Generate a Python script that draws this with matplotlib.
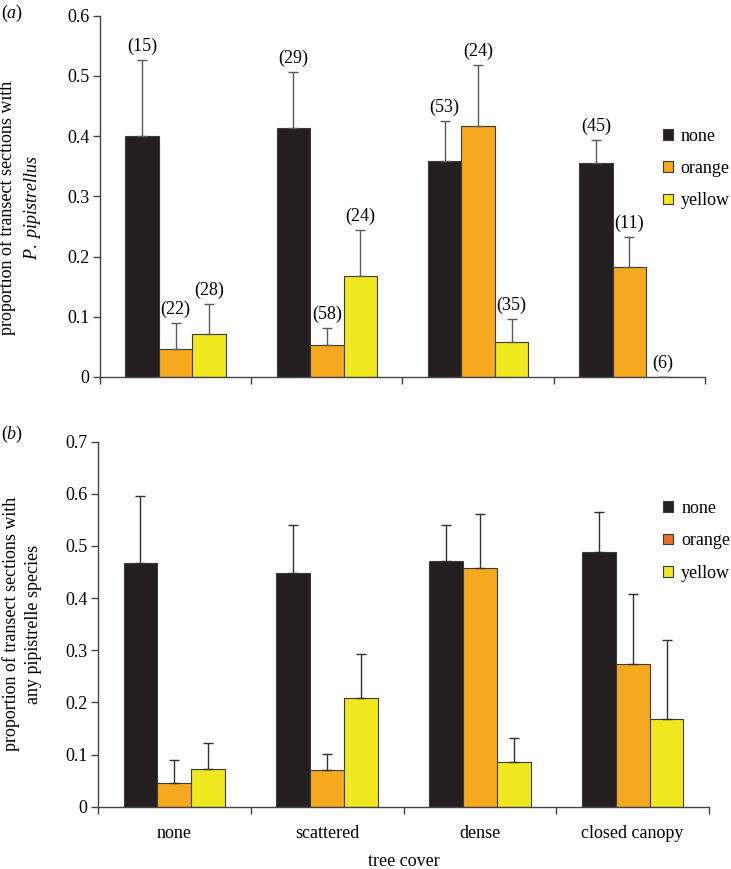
import matplotlib
matplotlib.use("Agg")
import matplotlib.pyplot as plt
from matplotlib.patches import Patch
import numpy as np

plt.rcParams['font.family'] = ['Liberation Serif', 'DejaVu Serif']
plt.rcParams['mathtext.fontset'] = 'custom'
plt.rcParams['mathtext.rm'] = 'Liberation Serif'
plt.rcParams['mathtext.it'] = 'Liberation Serif:italic'
plt.rcParams['font.size'] = 13

# dados
categorias = ['none', 'scattered', 'dense', 'closed canopy']
series = ['none', 'orange', 'yellow']
cores = ['#231f20', '#f6a81e', '#efe81f']
cor_legenda_b = ['#231f20', '#e8702a', '#efe81f']

# painel (a): P. pipistrellus
a_none = [0.400, 0.414, 0.359, 0.356]
a_orange = [0.046, 0.053, 0.417, 0.182]
a_yellow = [0.072, 0.168, 0.058, 0.0]
a_err_none = [0.127, 0.092, 0.066, 0.037]
a_err_orange = [0.044, 0.028, 0.101, 0.051]
a_err_yellow = [0.049, 0.076, 0.038, 0.0]
a_n_none = [15, 29, 53, 45]
a_n_orange = [22, 58, 24, 11]
a_n_yellow = [28, 24, 35, 6]

# painel (b): qualquer pipistrelo
b_none = [0.467, 0.448, 0.471, 0.489]
b_orange = [0.046, 0.070, 0.458, 0.273]
b_yellow = [0.072, 0.209, 0.086, 0.168]
b_err_none = [0.129, 0.093, 0.070, 0.076]
b_err_orange = [0.044, 0.032, 0.103, 0.134]
b_err_yellow = [0.050, 0.083, 0.046, 0.151]

fig = plt.figure(figsize=(7.31, 8.69), dpi=100)
ax_a = fig.add_axes([0.1368, 0.5662, 0.8276, 0.4158])
ax_b = fig.add_axes([0.1341, 0.0717, 0.8358, 0.4200])

largura = 0.222
x = np.arange(len(categorias))


def desenha(ax, valores, erros, cor_erro, ymax, ylabel):
    for k, (v, e) in enumerate(zip(valores, erros)):
        pos = x + (k - 1) * largura
        ax.bar(pos, v, largura, color=cores[k], edgecolor='#3a3a3a', linewidth=0.8, zorder=2)
        ax.errorbar(pos, v, yerr=[np.zeros(len(v)), e], fmt='none', ecolor=cor_erro,
                    elinewidth=1.0, capsize=3.5, capthick=1.0, zorder=3)
    ax.set_xlim(-0.5, len(categorias) - 0.5)
    ax.set_ylim(0, ymax)
    ticks = np.round(np.arange(0, ymax + 0.01, 0.1), 1)
    ax.set_yticks(ticks)
    ax.set_yticklabels(['%g' % t for t in ticks])
    ax.set_xticks(np.arange(len(categorias) + 1) - 0.5, minor=False)
    ax.set_xticklabels([])
    for lado in ['top', 'right']:
        ax.spines[lado].set_visible(False)
    for lado in ['left', 'bottom']:
        ax.spines[lado].set_color('#444444')
        ax.spines[lado].set_linewidth(1.0)
    ax.tick_params(axis='both', direction='out', length=5, color='#444444', width=1.0, pad=2.5)
    ax.set_ylabel(ylabel, linespacing=1.35)


desenha(ax_a, [a_none, a_orange, a_yellow], [a_err_none, a_err_orange, a_err_yellow],
        '#5a5a5a', 0.6, 'proportion of transect sections with\n$\\it{P.\\ pipistrellus}$')
desenha(ax_b, [b_none, b_orange, b_yellow], [b_err_none, b_err_orange, b_err_yellow],
        '#303030', 0.7, 'proportion of transect sections with\nany pipistrelle species')

ax_a.yaxis.set_label_coords(-0.095, 0.468)
ax_b.yaxis.set_label_coords(-0.092, 0.5)

# tamanhos de amostra no painel (a)
for k, (v, e, n) in enumerate(zip([a_none, a_orange, a_yellow],
                                  [a_err_none, a_err_orange, a_err_yellow],
                                  [a_n_none, a_n_orange, a_n_yellow])):
    for i in range(len(categorias)):
        ax_a.annotate('(%d)' % n[i], (x[i] + (k - 1) * largura, v[i] + e[i]),
                      xytext=(0, 3.5), textcoords='offset points', ha='center', va='bottom')

# rótulos das categorias no painel (b)
for i, c in enumerate(categorias):
    ax_b.annotate(c, (x[i], 0), xycoords=('data', 'axes fraction'), xytext=(0, -13),
                  textcoords='offset points', ha='center', va='top')
ax_b.set_xlabel('tree cover', labelpad=26)

# legendas
ax_a.legend(handles=[Patch(facecolor=c, edgecolor='#3a3a3a', linewidth=0.8, label=s)
                     for c, s in zip(cores, series)],
            loc='upper left', bbox_to_anchor=(0.918, 0.71), frameon=False,
            handlelength=0.55, handleheight=0.55, handletextpad=0.45, labelspacing=0.85,
            borderaxespad=0)
ax_b.legend(handles=[Patch(facecolor=c, edgecolor='#3a3a3a', linewidth=0.8, label=s)
                     for c, s in zip(cor_legenda_b, series)],
            loc='upper left', bbox_to_anchor=(0.913, 0.86), frameon=False,
            handlelength=0.55, handleheight=0.55, handletextpad=0.45, labelspacing=0.85,
            borderaxespad=0)

fig.text(0.002, 0.985, '($\\it{a}$)', ha='left', va='center')
fig.text(0.002, 0.5, '($\\it{b}$)', ha='left', va='center')

fig.savefig('out.png', dpi=100)
